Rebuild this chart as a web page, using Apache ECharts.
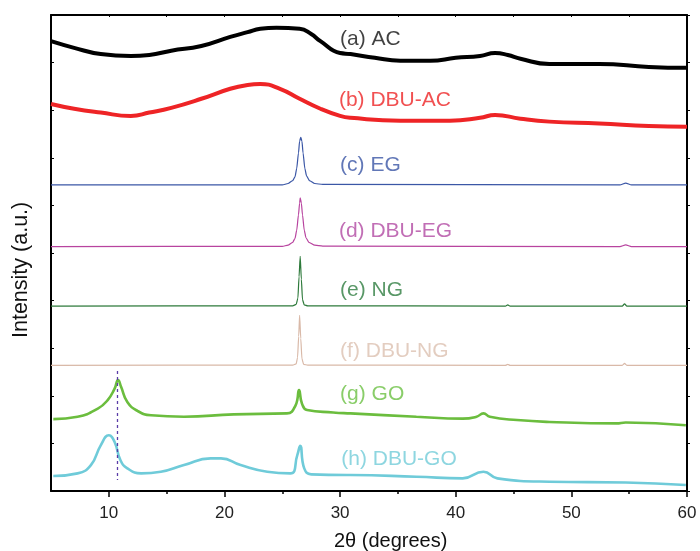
<!DOCTYPE html>
<html><head><meta charset="utf-8">
<script src="https://cdn.jsdelivr.net/npm/echarts@6/dist/echarts.min.js"></script>
<style>html,body{margin:0;padding:0;background:#fff}#c{width:700px;height:551px}</style>
</head><body><div id="c"></div>
<script>
// 2θ (degrees) vs stacked intensity (axis units, traces offset)
const AC = [[5,9.45],[7,9.31],[9.3,9.18],[11.9,9.14],[13.5,9.16],[15.4,9.25],[18,9.35],[20.5,9.54],[22,9.64],[23.1,9.71],[24.5,9.73],[26.5,9.71],[27.5,9.60],[28.3,9.45],[30,9.20],[30.9,9.18],[33,9.10],[35.2,9.04],[37.8,9.04],[40,9.10],[42.1,9.14],[43.4,9.20],[44.5,9.16],[45.6,9.08],[48.1,8.97],[52.4,8.97],[56.7,8.91],[60,8.89]];
const DBU_AC = [[5,8.13],[7,8.03],[9.3,7.95],[11.9,7.88],[13.5,7.95],[15.4,8.05],[18,8.24],[20.5,8.45],[22,8.53],[23.1,8.55],[24.8,8.45],[26.5,8.24],[28.3,8.03],[30,7.88],[30.9,7.84],[35.2,7.78],[39.5,7.78],[42.1,7.84],[43.4,7.90],[45.6,7.82],[48.1,7.76],[52.4,7.72],[56.7,7.67],[60,7.65]];
const EG = [[5,6.43],[25,6.43],[25.5,6.46],[25.9,6.52],[26.1,6.60],[26.25,6.78],[26.4,7.10],[26.5,7.35],[26.6,7.43],[26.7,7.35],[26.8,7.10],[26.95,6.78],[27.1,6.62],[27.35,6.52],[27.8,6.46],[28.5,6.44],[54.2,6.43],[54.7,6.47],[55.2,6.43],[60,6.43]];
const DBU_EG = [[5,5.136],[25,5.14],[25.5,5.165],[25.9,5.225],[26.1,5.305],[26.25,5.48],[26.4,5.80],[26.5,6.05],[26.55,6.157],[26.65,6.05],[26.75,5.80],[26.9,5.48],[27.05,5.32],[27.3,5.225],[27.8,5.165],[28.5,5.145],[54.2,5.136],[54.7,5.17],[55.2,5.136],[60,5.136]];
const NG = [[5,3.885],[25.9,3.89],[26.2,3.92],[26.35,4.05],[26.45,4.50],[26.55,4.93],[26.65,4.45],[26.75,4.02],[26.9,3.91],[27.2,3.89],[44.3,3.885],[44.5,3.91],[44.7,3.885],[54.4,3.885],[54.6,3.93],[54.8,3.885],[60,3.885]];
const DBU_NG = [[5,2.64],[25.9,2.645],[26.2,2.67],[26.32,2.80],[26.42,3.25],[26.5,3.69],[26.6,3.20],[26.7,2.78],[26.85,2.66],[27.2,2.645],[44.3,2.64],[44.5,2.66],[44.7,2.64],[54.4,2.64],[54.6,2.68],[54.8,2.64],[60,2.64]];
const GO = [[5.2,1.51],[7.3,1.56],[9.05,1.73],[9.9,1.91],[10.5,2.15],[10.8,2.33],[11.06,2.19],[11.6,1.87],[12.5,1.68],[13.65,1.59],[16.5,1.56],[20.8,1.61],[25.4,1.63],[26.15,1.80],[26.45,2.12],[26.7,1.84],[27.15,1.70],[29.4,1.65],[30.9,1.63],[36.6,1.56],[40.6,1.52],[41.8,1.56],[42.4,1.63],[42.95,1.56],[45.3,1.49],[48.1,1.45],[53.9,1.42],[54.7,1.44],[59.9,1.38]];
const DBU_GO = [[5.2,0.314],[7.3,0.37],[8.45,0.545],[9.3,0.96],[10.0,1.17],[10.5,1.03],[11.0,0.65],[11.6,0.476],[12.8,0.37],[14.5,0.405],[16.5,0.545],[18.8,0.685],[19.7,0.685],[21.4,0.545],[23.7,0.405],[25.7,0.37],[26.3,0.755],[26.55,0.95],[26.9,0.476],[27.5,0.35],[30.6,0.335],[30.9,0.335],[36.6,0.30],[40.6,0.266],[42.4,0.405],[43.6,0.266],[48.1,0.195],[54.7,0.18],[59.9,0.126]];
const GUIDE = [[10.75,2.52],[10.75,0.23]];
const names = ['(a) AC','(b) DBU-AC','(c) EG','(d) DBU-EG','(e) NG','(f) DBU-NG','(g) GO','(h) DBU-GO'];
const labelPos = [[30,9.5],[29.9,8.21],[30,6.85],[29.9,5.46],[30,4.22],[30,2.94],[30,2.04],[30.1,0.67]];
const xTicks = [10,20,30,40,50,60];
const xMinorTicks = [15,25,35,45,55];

const datas = [AC, DBU_AC, EG, DBU_EG, NG, DBU_NG, GO, DBU_GO];
const colors = ['#000000','#ee2426','#3b57a6','#b8449f','#2e7a3b','#d9b9a8','#6bbd3e','#6fcbd9'];
const labelColors = ['#111111','#ee2426','#3a55a5','#b24aa2','#2e7d40','#dcc0b0','#6cc044','#72ccd8'];
const widths = [4,4,1.2,1.2,1.2,1.2,2.6,2.6];
const broad = [true,true,false,false,false,false,true,true];
const FONT = 'Liberation Sans, Arial, sans-serif';

const chart = echarts.init(document.getElementById('c'), null, {renderer:'canvas'});
const series = datas.map((d,i)=>({
  type:'line', data:d, showSymbol:false, symbol:'none',
  smooth: broad[i] ? 0.5 : 0.2, smoothMonotone: broad[i] ? null : 'x',
  lineStyle:{color:colors[i], width:widths[i]}, z:2, animation:false
}));
series.push({type:'line', data:GUIDE, showSymbol:false, symbol:'none',
  lineStyle:{color:'#5b3ca8', width:1.3, type:[3,3]}, z:3, animation:false});
series.push({type:'scatter', symbolSize:0, animation:false, z:5,
  data: labelPos.map((p,i)=>({value:p, label:{show:true, position:'right', distance:0,
    formatter:names[i], color:labelColors[i], fontSize:21, fontFamily:FONT}}))});

chart.setOption({
  animation:false,
  grid:{left:51, right:13, top:15, bottom:60},
  xAxis:[{type:'value', min:5, max:60, interval:5, position:'bottom',
    axisLine:{onZero:false, lineStyle:{color:'#000', width:2}},
    axisTick:{inside:false, length:6, customValues:xTicks, lineStyle:{color:'#000', width:1.5}},
    axisLabel:{fontSize:17, color:'#222', fontFamily:FONT, margin:14, customValues:xTicks,
      formatter:v=> xTicks.indexOf(v)>=0 ? String(v) : ''},
    splitLine:{show:false}},
   {type:'value', min:5, max:60, interval:5, position:'bottom', offset:0,
    axisLine:{show:false, onZero:false},
    axisTick:{show:true, inside:false, length:3, customValues:xMinorTicks, lineStyle:{color:'#000', width:1.5}},
    axisLabel:{show:false}, splitLine:{show:false}},
   {type:'value', min:5, max:60, interval:5, position:'top',
    axisLine:{onZero:false, lineStyle:{color:'#000', width:2}},
    axisTick:{inside:true, length:2, lineStyle:{color:'#000'}},
    axisLabel:{show:false}, splitLine:{show:false}}],
  yAxis:[{type:'value', min:0, max:10, interval:1, position:'left',
    axisLine:{show:true, onZero:false, lineStyle:{color:'#000', width:2}},
    axisTick:{show:true, inside:true, length:3, lineStyle:{color:'#000'}},
    axisLabel:{show:false}, splitLine:{show:false}},
   {type:'value', min:0, max:10, interval:1, position:'right',
    axisLine:{show:true, onZero:false, lineStyle:{color:'#000', width:2}},
    axisTick:{show:true, inside:false, length:3, lineStyle:{color:'#000'}},
    axisLabel:{show:false}, splitLine:{show:false}}],
  graphic:[
    {type:'text', left:334, top:531, style:{text:'2θ (degrees)', fill:'#111', font:'20px '+FONT}},
    {type:'text', x:10, y:338, rotation:Math.PI/2, style:{text:'Intensity (a.u.)', fill:'#111', font:'21.5px '+FONT}}
  ],
  series: series
});
</script></body></html>
